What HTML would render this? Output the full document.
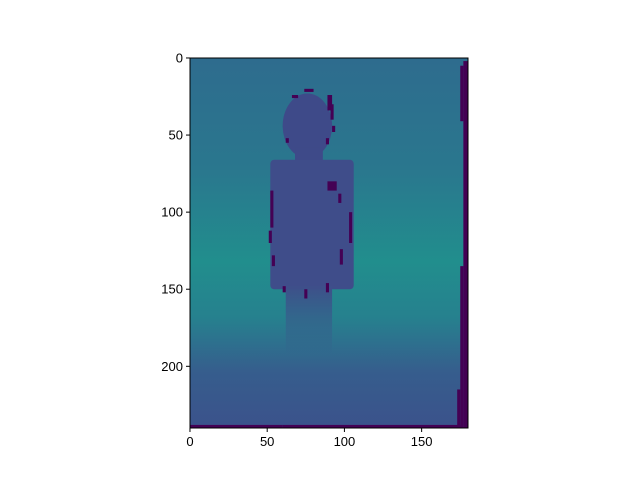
<!DOCTYPE html>
<html><head><meta charset="utf-8"><style>
body{margin:0;background:#fff;width:640px;height:480px;overflow:hidden}
svg text{font-family:"Liberation Sans",sans-serif;font-size:13px;fill:#000}
</style></head><body>
<svg id="c" width="640" height="480">
<defs>
<linearGradient id="bg" x1="0" y1="0" x2="0" y2="1">
<stop offset="0" stop-color="#2e6c8e"/>
<stop offset="0.3" stop-color="#2a778e"/>
<stop offset="0.55" stop-color="#218e8d"/>
<stop offset="0.7" stop-color="#26818e"/>
<stop offset="0.85" stop-color="#365d8d"/>
<stop offset="1" stop-color="#3b528b"/>
</linearGradient>
<linearGradient id="leg" x1="0" y1="0" x2="0" y2="1">
<stop offset="0" stop-color="#3e4f8a"/>
<stop offset="1" stop-color="#3b528b" stop-opacity="0"/>
</linearGradient>
</defs>
</svg>
<script>
const xTicks=[0,50,100,150];
const yTicks=[0,50,100,150,200];
const nCols=180, nRows=240;
const X0=190,X1=468,Y0=58,Y1=428;
const sx=c=>X0+(c)/nCols*(X1-X0);
const sy=r=>Y0+(r)/nRows*(Y1-Y0);
const svg=document.getElementById('c');
const NS='http://www.w3.org/2000/svg';
function mk(t,a,name){const e=document.createElementNS(NS,t);for(const k in a)e.setAttribute(k,a[k]);


svg.appendChild(e);return e;}
mk('rect',{x:X0,y:Y0,width:X1-X0,height:Y1-Y0,fill:'url(#bg)'},'image-background');
mk('ellipse',{cx:sx(76),cy:sy(44),rx:(sx(16)-sx(0)),ry:(sy(21)-sy(0)),fill:'#3e4a89'},'head');
mk('rect',{x:sx(68),y:sy(58),width:sx(18)-sx(0),height:sy(12)-sy(0),fill:'#3e4a89'},'neck');
mk('rect',{x:sx(52),y:sy(66),width:sx(54)-sx(0),height:sy(84)-sy(0),rx:4,fill:'#3f4d8a'},'torso');
mk('rect',{x:sx(62),y:sy(148),width:sx(30)-sx(0),height:sy(45)-sy(0),fill:'url(#leg)'},'legs');
// dark invalid regions [c0,r0,c1,r1]
const dark=[[175,5,177,41],[177,2,180,240],[175,135,177,240],[173,215,175,240],[0,238,60,240],
[60,238,175,240],[89,24,92,34],[91,30,93,40],[92,44,94,48],[88,52,90,56],[89,80,95,86],[96,88,98,94],[103,100,105,120],[97,124,99,134],[88,146,90,152],[74,150,76,156],
[52,86,54,110],[51,112,53,120],[53,128,55,135],[60,148,62,152],[74,20,80,22],[66,24,70,26],[62,52,64,55]];
dark.forEach(d=>mk('rect',{x:sx(d[0]),y:sy(d[1]),width:sx(d[2])-sx(d[0]),height:sy(d[3])-sy(d[1]),fill:'#440154'},'invalid-pixels'));
mk('rect',{x:X0,y:Y0,width:X1-X0,height:Y1-Y0,fill:'none',stroke:'#000','stroke-width':1},'axes-frame');
xTicks.forEach(t=>{const x=sx(t+0.5)-0.8;mk('line',{x1:x,y1:Y1,x2:x,y2:Y1+4,stroke:'#000'},'x-tick');
const tx=mk('text',{x:x,y:Y1+18,'text-anchor':'middle'},'x-tick-label');tx.textContent=t;});
yTicks.forEach(t=>{const y=sy(t+0.5)-0.8;mk('line',{x1:X0,y1:y,x2:X0-4,y2:y,stroke:'#000'},'y-tick');
const tx=mk('text',{x:X0-7,y:y+4.5,'text-anchor':'end'},'y-tick-label');tx.textContent=t;});
</script>
</body></html>
